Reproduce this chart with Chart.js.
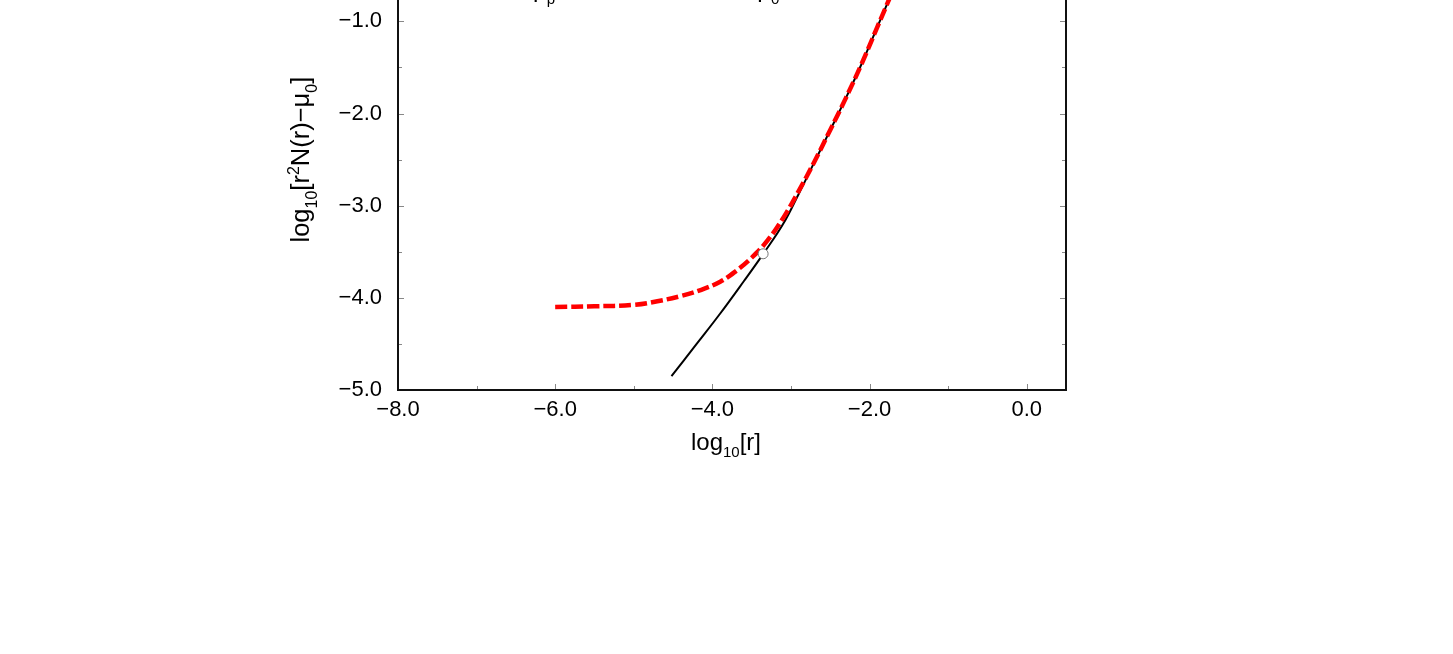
<!DOCTYPE html>
<html>
<head>
<meta charset="utf-8">
<script src="https://cdn.jsdelivr.net/npm/chart.js@4.4.0/dist/chart.umd.min.js"></script>
<style>
html,body{margin:0;padding:0;background:#fff;overflow:hidden;}
#wrap{position:absolute;left:0;top:-100px;width:1453px;height:754px;}
</style>
</head>
<body>
<div id="wrap"><canvas id="c"></canvas></div>
<script>
// axis ranges / ticks
const xRange = [-8, 0.5];
const yRange = [-5, 0];
const xMajorStep = 2, xMinorStep = 1;
const yMajorStep = 1, yMinorStep = 0.5;

// red dashed curve (fit)
const fitX = [-6.0, -5.5, -5.0, -4.7, -4.4, -4.15, -3.9, -3.7, -3.5, -3.3, -3.1, -2.9, -2.7, -2.5, -2.3, -2.1, -1.9, -1.7, -1.5];
const fitY = [-4.100, -4.092, -4.076, -4.037, -3.980, -3.915, -3.825, -3.710, -3.565, -3.380, -3.135, -2.840, -2.520, -2.178, -1.830, -1.460, -1.060, -0.660, -0.260];

// black solid curve
const numX = [-4.52, -4.2, -3.9, -3.6, -3.35, -3.1, -2.9, -2.7, -2.5, -2.3, -2.1, -1.9, -1.7, -1.5];
const numY = [-4.85, -4.50, -4.17, -3.82, -3.52, -3.20, -2.87, -2.525, -2.18, -1.830, -1.460, -1.060, -0.660, -0.260];

// open circle
const matchX = [-3.354];
const matchY = [-3.522];

const FONT = '"Liberation Sans", Arial, Helvetica, sans-serif';

function pts(xs, ys){ return xs.map((v,i)=>({x:v, y:ys[i]})); }
function fmt(v){ return v.toFixed(1).replace('-', '\u2212'); }

// draws text made of normal / sub / sup runs, returns width
function richText(ctx, runs, x, y, size, measureOnly){
  let w = 0;
  runs.forEach(r=>{
    const s = r[1] ? Math.round(size*0.62) : size;
    ctx.font = s + 'px ' + FONT;
    const dy = r[1]==='sub' ? size*0.3 : (r[1]==='sup' ? -size*0.38 : 0);
    if(!measureOnly) ctx.fillText(r[0], x + w, y + dy);
    w += ctx.measureText(r[0]).width;
  });
  return w;
}

const xTitle = [['log'],['10','sub'],['[r]']];
const yTitle = [['log'],['10','sub'],['[r'],['2','sup'],['N(r)\u2212\u03bc'],['0','sub'],[']']];
const topNote = [['\u03bc'],['p','sub'],[' = 0.10,  \u03b1 = 1.00,  \u03bc'],['0','sub']];

const frame = {
  id:'frame',
  afterDatasetsDraw(chart){
    const {ctx, chartArea:a, scales:{x, y}} = chart;
    ctx.save();
    ctx.strokeStyle = '#888';
    ctx.lineWidth = 1;
    ctx.beginPath();
    for(let v = xRange[0]; v <= xRange[1] + 1e-9; v += xMinorStep){
      const p = Math.round(x.getPixelForValue(v)) + 0.5;
      const len = (Math.abs(v % xMajorStep) < 1e-9) ? 6 : 4;
      ctx.moveTo(p, a.bottom); ctx.lineTo(p, a.bottom - len);
      ctx.moveTo(p, a.top); ctx.lineTo(p, a.top + len);
    }
    for(let v = yRange[0]; v <= yRange[1] + 1e-9; v += yMinorStep){
      const p = Math.round(y.getPixelForValue(v)) + 0.5;
      const len = (Math.abs(v % yMajorStep) < 1e-9) ? 6 : 4;
      ctx.moveTo(a.left, p); ctx.lineTo(a.left + len, p);
      ctx.moveTo(a.right, p); ctx.lineTo(a.right - len, p);
    }
    ctx.stroke();
    ctx.strokeStyle = '#111';
    ctx.lineWidth = 2;
    ctx.strokeRect(a.left, a.top, a.width, a.height);
    ctx.restore();
  },
  afterDraw(chart){
    const {ctx, chartArea:a} = chart;
    ctx.save();
    ctx.fillStyle = '#000';
    ctx.textBaseline = 'alphabetic';
    // x title
    let w = richText(ctx, xTitle, 0, 0, 24, true);
    richText(ctx, xTitle, (a.left + a.right)/2 - 6 - w/2, a.bottom + 60, 24);
    // y title
    w = richText(ctx, yTitle, 0, 0, 25.5, true);
    ctx.translate(309, (a.top + a.bottom)/2);
    ctx.rotate(-Math.PI/2);
    richText(ctx, yTitle, -w/2, 0, 25.5);
    ctx.restore();
    // annotation near top of plot (mostly cut off)
    ctx.save();
    ctx.fillStyle = '#000';
    richText(ctx, topNote, 533, a.top + 68, 24);
    ctx.restore();
  }
};

new Chart(document.getElementById('c'), {
  type: 'scatter',
  data: {
    datasets: [
      { data: pts(matchX, matchY), showLine:false, pointRadius:5, pointBackgroundColor:'#fff',
        pointBorderColor:'#777', pointBorderWidth:1 },
      { data: pts(fitX, fitY), showLine:true, borderColor:'#ff0000', borderWidth:4.5,
        borderDash:[12,4], pointRadius:0, tension:0.4, fill:false },
      { data: pts(numX, numY), showLine:true, borderColor:'#000', borderWidth:2,
        pointRadius:0, tension:0.4, fill:false }
    ]
  },
  options: {
    responsive:true,
    maintainAspectRatio:false,
    devicePixelRatio:1,
    animation:false,
    events:[],
    layout:{ padding:{ left:0, right:387, top:27.5, bottom:204 } },
    plugins:{ legend:{display:false}, tooltip:{enabled:false} },
    scales:{
      x:{
        type:'linear', min:xRange[0], max:xRange[1],
        grid:{ display:false, drawTicks:false },
        border:{ display:false },
        afterFit(s){ s.height = 60; },
        ticks:{ stepSize:xMajorStep, includeBounds:false, padding:7, color:'#000',
          font:{ family:FONT, size:22 }, maxRotation:0, callback:v=>fmt(v) }
      },
      y:{
        type:'linear', min:yRange[0], max:yRange[1],
        grid:{ display:false, drawTicks:false },
        border:{ display:false },
        afterFit(s){ s.width = 398; },
        ticks:{ stepSize:yMajorStep, includeBounds:false, padding:16, color:'#000',
          font:{ family:FONT, size:22 }, callback:v=>fmt(v) }
      }
    }
  },
  plugins:[frame]
});
</script>
</body>
</html>
